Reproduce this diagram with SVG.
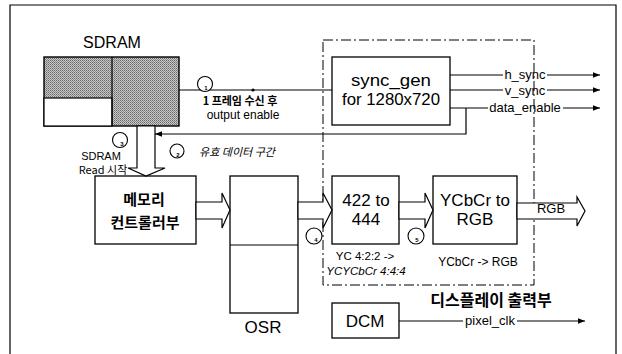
<svg xmlns="http://www.w3.org/2000/svg" width="622" height="354" viewBox="0 0 622 354">
<defs>
<style>
.ln{stroke:#000;stroke-width:1.2;fill:none}
.box{stroke:#000;stroke-width:1.3;fill:#fff}
.ha{stroke:#000;stroke-width:1.2;fill:#fff;stroke-linejoin:miter}
.t{font-family:"Liberation Sans","Noto Sans CJK KR",sans-serif;fill:#000}
.k{font-family:"Noto Sans CJK KR","Liberation Sans",sans-serif;fill:#000}
.c{stroke:#000;stroke-width:1.1;fill:#fff}
.n{font-family:"Liberation Sans",sans-serif;font-size:6px;font-weight:bold;fill:#000}
</style>
<pattern id="dots" width="2" height="2" patternUnits="userSpaceOnUse">
<rect width="2" height="2" fill="#c8c8c8"/>
<rect x="0" y="0" width="1" height="1" fill="#6a6a6a"/>
<rect x="1" y="1" width="1" height="1" fill="#8a8a8a"/>
</pattern>
<marker id="ar" viewBox="0 0 10 10" refX="10" refY="5" markerWidth="7" markerHeight="7" orient="auto" markerUnits="userSpaceOnUse">
<path d="M0,1 L10,5 L0,9 z" fill="#000"/>
</marker>
</defs>
<rect width="622" height="354" fill="#fff"/>
<!-- outer frame -->
<path class="ln" d="M10,354 V5 H616 V354"/>
<!-- display output dashed region -->
<g id="display-region">
<rect x="323" y="40" width="211" height="245" fill="none" stroke="#000" stroke-width="1" stroke-dasharray="10 3 2 3"/>
<text class="k" x="491" y="306" font-size="16" font-weight="bold" text-anchor="middle">디스플레이 출력부</text>
</g>
<!-- SDRAM -->
<g id="sdram">
<text class="t" x="112" y="48" font-size="16" text-anchor="middle">SDRAM</text>
<rect x="44" y="57" width="135" height="69" fill="url(#dots)" stroke="#000" stroke-width="1.4"/>
<rect x="44" y="98" width="68" height="28" fill="#fff" stroke="#000" stroke-width="1.2"/>
<line class="ln" x1="112" y1="57" x2="112" y2="126"/>
</g>
<g id="sync_gen">
<rect class="box" x="332" y="57" width="118" height="68"/>
<text class="t" x="391" y="86" font-size="17" text-anchor="middle" textLength="80" lengthAdjust="spacingAndGlyphs">sync_gen</text>
<text class="t" x="391" y="105" font-size="17" text-anchor="middle" textLength="98" lengthAdjust="spacingAndGlyphs">for 1280x720</text>
</g>
<g id="memctrl">
<rect class="box" x="95" y="176" width="101" height="68"/>
<text class="k" x="144" y="205" font-size="15" font-weight="bold" text-anchor="middle">메모리</text>
<text class="k" x="145" y="228" font-size="15" font-weight="bold" text-anchor="middle">컨트롤러부</text>
</g>
<g id="osr">
<rect class="box" x="230" y="176" width="68" height="137"/>
<line class="ln" x1="230" y1="245" x2="298" y2="245"/>
<text class="t" x="263" y="333" font-size="17" text-anchor="middle">OSR</text>
</g>
<g id="conv422">
<rect class="box" x="332" y="176" width="67" height="68"/>
<text class="t" x="366" y="206" font-size="17" text-anchor="middle">422 to</text>
<text class="t" x="366" y="225" font-size="17" text-anchor="middle">444</text>
<text class="t" x="365" y="260" font-size="11.5" text-anchor="middle">YC 4:2:2 -&gt;</text>
<text class="t" x="366" y="275" font-size="11.5" font-style="italic" text-anchor="middle">YCYCbCr 4:4:4</text>
</g>
<g id="ycbcr2rgb">
<rect class="box" x="433" y="176" width="84" height="68"/>
<text class="t" x="475" y="206" font-size="17" text-anchor="middle">YCbCr to</text>
<text class="t" x="475" y="225" font-size="17" text-anchor="middle">RGB</text>
<text class="t" x="478" y="266" font-size="12" text-anchor="middle">YCbCr -&gt; RGB</text>
</g>
<g id="dcm">
<rect class="box" x="332" y="303" width="67" height="35"/>
<text class="t" x="365" y="327" font-size="17" text-anchor="middle">DCM</text>
</g>
<g id="connectors">
<!-- SDRAM to sync_gen -->
<line class="ln" x1="179" y1="90" x2="332" y2="90"/>
<circle cx="253" cy="90" r="1.6" fill="#000"/>
<!-- sync outputs -->
<path class="ln" d="M450,75 H503 M547,75 H600" marker-end="url(#ar)"/>
<text class="t" x="525" y="79" font-size="13" text-anchor="middle">h_sync</text>
<path class="ln" d="M450,90 H503 M547,90 H600" marker-end="url(#ar)"/>
<text class="t" x="525" y="95" font-size="13" text-anchor="middle">v_sync</text>
<path class="ln" d="M450,108 H488 M563,108 H600" marker-end="url(#ar)"/>
<text class="t" x="525" y="112" font-size="13" text-anchor="middle">data_enable</text>
<!-- feedback valid data -->
<path class="ln" d="M466,108 V134 H155" marker-end="url(#ar)"/>
<!-- big hollow down arrow SDRAM -> memctrl -->
<polygon class="ha" points="137,126 137,168 128,168 146,176 165,168 155,168 155,126"/>
<!-- hollow right arrows -->
<polygon class="ha" points="196,202 222,202 222,193 230,210 222,228 222,219 196,219"/>
<polygon class="ha" points="298,202 323,202 323,193 332,210 323,228 323,219 298,219"/>
<polygon class="ha" points="399,202 425,202 425,193 433,210 425,228 425,219 399,219"/>
<polygon class="ha" points="517,203 577,203 577,197 585,211 577,226 577,219 517,219"/>
<text class="t" x="551" y="213" font-size="13" text-anchor="middle">RGB</text>
<!-- pixel clk -->
<path class="ln" d="M399,321 H463 M517,321 H585" marker-end="url(#ar)"/>
<text class="t" x="490" y="325" font-size="13" text-anchor="middle">pixel_clk</text>
</g>
<g id="annotations">
<circle class="c" cx="205" cy="84" r="7.5"/><text class="n" x="206" y="90" text-anchor="middle">1</text>
<text class="k" x="240" y="105" font-size="11" font-weight="bold" text-anchor="middle">1 프레임 수신 후</text>
<text class="t" x="243" y="119" font-size="12" text-anchor="middle">output enable</text>
<circle class="c" cx="120" cy="140" r="7.5"/><text class="n" x="122" y="146" text-anchor="middle">3</text>
<text class="t" x="101" y="160" font-size="11" text-anchor="middle">SDRAM</text>
<text class="k" x="103" y="174" font-size="11" text-anchor="middle">Read 시작</text>
<circle class="c" cx="177" cy="151" r="7"/><text class="n" x="178" y="157" text-anchor="middle">2</text>
<text class="k" x="237" y="156" font-size="11" font-style="italic" text-anchor="middle">유효 데이터 구간</text>
<circle class="c" cx="314" cy="236" r="8"/><text class="n" x="316" y="242" text-anchor="middle">4</text>
<circle class="c" cx="416" cy="236" r="8"/><text class="n" x="417" y="242" text-anchor="middle">5</text>
</g>
</svg>
